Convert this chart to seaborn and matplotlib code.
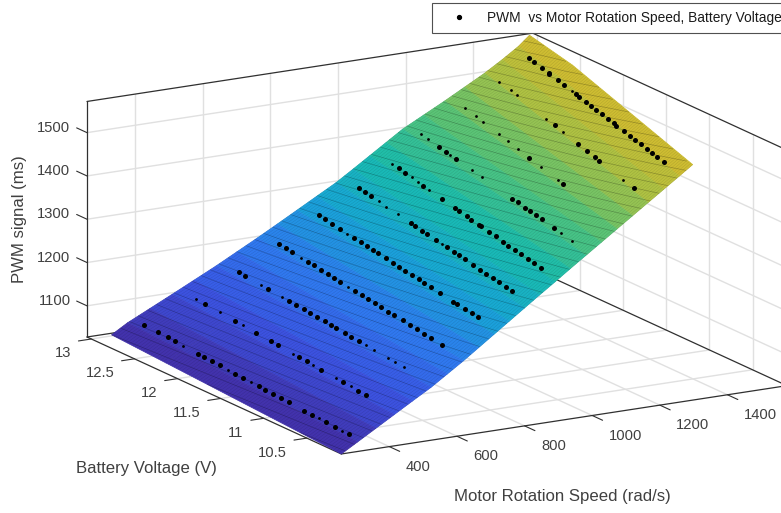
import numpy as np
import matplotlib
matplotlib.use('Agg')
import matplotlib.pyplot as plt
from matplotlib.lines import Line2D
from mpl_toolkits.mplot3d import proj3d
import seaborn as sns

# PWM levels commanded during the test
pwm_levels = [1050, 1100, 1150, 1200, 1250, 1300, 1350, 1400, 1450, 1500, 1550]

# dots that sit on top of the surface, one list per PWM level
volt_rows = [
    [12.93, 12.75, 12.63, 12.53, 12.23, 12.15, 12.05, 11.95, 11.75, 11.64, 11.44, 11.36, 11.26, 11.15, 11.05, 10.85, 10.75, 10.56, 10.45, 10.27],
    [12.75, 12.34, 12.05, 11.85, 11.75, 11.46, 11.36, 11.16, 10.86, 10.66, 10.56],
    [12.84, 12.75, 12.44, 12.15, 12.05, 11.95, 11.86, 11.76, 11.66, 11.57, 11.50, 11.38, 11.29, 11.18],
    [12.85, 12.75, 12.66, 12.42, 12.34, 12.23, 12.13, 12.04, 11.95, 11.74, 11.63, 11.54, 11.44, 11.36, 11.25, 11.16, 11.04, 10.94, 10.83, 10.73, 10.63, 10.47],
    [12.86, 12.77, 12.66, 12.54, 12.33, 12.23, 12.14, 12.05, 11.97, 11.85, 11.75, 11.66, 11.56, 11.46, 11.36, 11.28, 11.18, 11.04, 10.84, 10.79, 10.67, 10.57, 10.47],
    [12.85, 12.76, 12.66, 12.04, 11.97, 11.86, 11.78, 11.65, 11.48, 11.37, 11.29, 11.20, 11.07, 10.95, 10.86, 10.76, 10.66, 10.56, 10.46],
    [12.70, 12.59, 12.30, 12.00, 11.79, 11.72, 11.60, 11.52, 11.39, 11.36, 11.23, 11.13, 11.00, 10.92, 10.81, 10.72, 10.61, 10.51, 10.40],
    [12.58, 12.47, 12.30, 11.39, 11.30, 11.18, 11.10, 11.00, 10.91, 10.71],
    [11.70, 11.11],
    [11.83, 11.41, 11.25, 11.11, 11.03, 10.41],
    [12.78, 12.68, 12.55, 12.43, 12.42, 12.27, 12.16, 11.95, 11.89, 11.78, 11.69, 11.60, 11.49, 11.39, 11.29, 11.24, 11.11, 11.01, 10.92, 10.81, 10.71, 10.62, 10.53, 10.41],
]
speed_rows = [
    [397, 392, 389, 386, 377, 375, 372, 370, 364, 361, 356, 353, 351, 347, 345, 339, 336, 331, 328, 323],
    [529, 514, 503, 495, 491, 481, 477, 469, 458, 451, 447],
    [654, 650, 638, 626, 622, 618, 614, 610, 606, 603, 600, 595, 591, 587],
    [774, 769, 764, 751, 747, 741, 736, 731, 727, 716, 710, 705, 700, 696, 690, 685, 679, 674, 668, 663, 657, 649],
    [895, 890, 883, 876, 864, 859, 853, 848, 844, 837, 831, 826, 820, 814, 808, 804, 798, 790, 778, 775, 769, 763, 757],
    [1011, 1005, 998, 958, 953, 946, 941, 932, 921, 914, 909, 903, 894, 886, 880, 874, 867, 861, 854],
    [1090, 1082, 1061, 1040, 1024, 1019, 1011, 1005, 995, 993, 984, 977, 967, 961, 954, 947, 939, 932, 924],
    [1180, 1172, 1159, 1092, 1085, 1077, 1071, 1064, 1057, 1042],
    [1222, 1170],
    [1330, 1292, 1278, 1265, 1258, 1202],
    [1495, 1486, 1475, 1465, 1463, 1451, 1442, 1424, 1418, 1409, 1401, 1393, 1384, 1375, 1367, 1362, 1351, 1343, 1335, 1325, 1317, 1309, 1301, 1291],
]

# dots that are mostly under the surface, only a sliver shows
partial_volt_rows = [
    [12.43, 11.84, 11.54, 10.66, 10.36],
    [12.86, 12.54, 12.23, 11.55, 11.27, 10.96, 10.76],
    [12.53, 12.25, 11.09, 10.98, 10.79, 10.68, 10.56],
    [12.52, 11.83],
    [12.43],
    [12.54, 12.42, 12.24, 11.55],
    [12.81, 12.49, 12.39, 12.20],
    [12.87, 12.77, 12.40, 12.04, 11.88, 10.60, 10.42],
    [12.83, 12.65, 12.52, 12.23, 12.08, 11.90, 11.49, 11.19],
    [12.82, 12.62, 12.51, 11.98, 11.68, 10.60],
    [12.03],
]
partial_speed_rows = [
    [383, 367, 358, 334, 326],
    [533, 521, 510, 484, 474, 462, 454],
    [641, 630, 583, 579, 571, 566, 561],
    [757, 720],
    [870],
    [991, 983, 971, 926],
    [1098, 1075, 1068, 1054],
    [1201, 1194, 1166, 1140, 1128, 1034, 1021],
    [1321, 1305, 1294, 1268, 1255, 1239, 1203, 1177],
    [1419, 1401, 1391, 1343, 1316, 1219],
    [1431],
]

# fitted surface: speed at each PWM level for three voltages
surf_volt = [10.1, 12.33, 13.02]
surf_pwm = [1028, 1050, 1075, 1100, 1125, 1150, 1175, 1200, 1225, 1250, 1275, 1300,
            1325, 1350, 1375, 1400, 1425, 1450, 1475, 1500, 1525, 1550, 1572]
surf_speed_low = [258, 306, 360, 414, 468, 523, 571, 619, 664, 709, 754, 799,
                  844, 890, 935, 981, 1027, 1073, 1119, 1165, 1211, 1257, 1297]
surf_speed_mid = [308, 355, 418, 481, 544, 606, 664, 722, 778, 833, 888, 943,
                  991, 1040, 1088, 1136, 1194, 1252, 1308, 1364, 1415, 1470, 1510]
surf_speed_high = [323, 370, 436, 502, 567, 632, 693, 754, 813, 871, 929, 987,
                   1037, 1086, 1135, 1184, 1246, 1308, 1367, 1426, 1478, 1526, 1559]

x_ticks = [400, 600, 800, 1000, 1200, 1400]
y_ticks = [10.5, 11, 11.5, 12, 12.5, 13]
y_tick_labels = ['10.5', '11', '11.5', '12', '12.5', '13']
z_ticks = [1100, 1200, 1300, 1400, 1500]

x_lim = (258, 1576)
y_lim = (10.1, 13.05)
z_lim = (1028, 1572)

sns.set_theme(style='white', font='Liberation Sans')
plt.rcParams['font.family'] = ['Liberation Sans', 'DejaVu Sans']

parula = sns.blend_palette(['#4232ac', '#3b55e4', '#2f7cf0', '#18a6d8', '#19bdb0',
                            '#52c47c', '#aac346', '#dcbb2a'], as_cmap=True)
grid_color = '#e0e0e0'
axis_color = '#303030'
text_color = '#404040'

fig = plt.figure(figsize=(7.81, 5.13), dpi=100)
ax = fig.add_subplot(projection='3d', proj_type='ortho', computed_zorder=False)
ax.set_box_aspect((514, 508, 244))
ax.view_init(elev=15.4, azim=-120)
ax.set_axis_off()

# grid on the three back walls
for x in x_ticks:
    ax.plot([x, x], [y_lim[0], y_lim[1]], [z_lim[0], z_lim[0]], color=grid_color, lw=1, zorder=1)
    ax.plot([x, x], [y_lim[1], y_lim[1]], z_lim, color=grid_color, lw=1, zorder=1)
for y in y_ticks:
    ax.plot(x_lim, [y, y], [z_lim[0], z_lim[0]], color=grid_color, lw=1, zorder=1)
    ax.plot([x_lim[1], x_lim[1]], [y, y], z_lim, color=grid_color, lw=1, zorder=1)
for z in z_ticks:
    ax.plot(x_lim, [y_lim[1], y_lim[1]], [z, z], color=grid_color, lw=1, zorder=1)
    ax.plot([x_lim[1], x_lim[1]], y_lim, [z, z], color=grid_color, lw=1, zorder=1)

# box edges
xa, xb = x_lim
ya, yb = y_lim
za, zb = z_lim
edges = [([xa, xb], [ya, ya], [za, za]), ([xa, xa], [ya, yb], [za, za]),
         ([xa, xa], [yb, yb], [za, zb]), ([xa, xb], [yb, yb], [zb, zb]),
         ([xb, xb], [ya, yb], [zb, zb]), ([xa, xb], [yb, yb], [za, za]),
         ([xb, xb], [ya, yb], [za, za])]
for ex, ey, ez in edges:
    ax.plot(ex, ey, ez, color=axis_color, lw=0.9, zorder=1.5)

# surface
speed_table = np.array([surf_speed_low, surf_speed_mid, surf_speed_high]).T
volt_grid, pwm_grid = np.meshgrid(surf_volt, surf_pwm)
colors = parula((pwm_grid - za) / (zb - za))
ax.plot_surface(speed_table, volt_grid, pwm_grid, facecolors=colors, rstride=1, cstride=1,
                shade=False, linewidth=0.5, antialiased=True, zorder=2)

# mesh lines of the fit
mesh_volt = np.linspace(surf_volt[0], surf_volt[-1], 90)
mesh_speed = np.arange(270, 1570, 26.5)
speed_by_volt = np.array([[np.interp(v, surf_volt, row) for v in mesh_volt] for row in speed_table])
for j, v in enumerate(mesh_volt):
    ax.plot(speed_by_volt[:, j], np.full(len(surf_pwm), v), surf_pwm, color='black', lw=0.3, alpha=0.15, zorder=3)
for s in mesh_speed:
    z_line = [np.interp(s, speed_by_volt[:, j], surf_pwm, left=np.nan, right=np.nan) for j in range(len(mesh_volt))]
    ax.plot(np.full(len(mesh_volt), s), mesh_volt, z_line, color='black', lw=0.5, alpha=0.25, zorder=3)

# measured points
for level, volts, speeds in zip(pwm_levels, volt_rows, speed_rows):
    ax.scatter(speeds, volts, [level] * len(volts), color='black', s=13, linewidths=0, depthshade=False, zorder=4)
for level, volts, speeds in zip(pwm_levels, partial_volt_rows, partial_speed_rows):
    ax.scatter(speeds, volts, [level] * len(volts), color='black', s=4, linewidths=0, depthshade=False, zorder=4)

# tick marks
for x in x_ticks:
    ax.plot([x, x], [ya, ya - 0.12], [za, za], color=axis_color, lw=0.8, zorder=1.5)
for y in y_ticks:
    ax.plot([xa, xa - 38], [y, y], [za, za], color=axis_color, lw=0.8, zorder=1.5)
for z in z_ticks:
    ax.plot([xa, xa], [yb, yb + 0.12], [z, z], color=axis_color, lw=0.8, zorder=1.5)

ax.set_xlim(x_lim, view_margin=0)
ax.set_ylim(y_lim, view_margin=0)
ax.set_zlim(z_lim, view_margin=0)

# put the box where it belongs in the 781x513 frame
M = ax.get_proj()
left_x, left_y, _ = proj3d.proj_transform(xa, yb, za, M)
right_x, right_y, _ = proj3d.proj_transform(xb, ya, za, M)
scale = (787 - 87) / (right_x - left_x)
(x0, y0), (x1, y1) = ax.transLimits.inverted().transform([(0, 0), (1, 1)])
left_px = 87 - (left_x - x0) * scale
bottom_px = (513 - 337) - (left_y - y0) * scale
ax.set_position([left_px / 781, bottom_px / 513, scale * (x1 - x0) / 781, scale * (y1 - y0) / 513])


def tick_label(x, y, z, text, dx, dy, ha):
    # plain figure text next to the projected tick, dx/dy in pixels
    xp, yp, _ = proj3d.proj_transform(x, y, z, M)
    px = left_px + (xp - x0) * scale + dx
    py = bottom_px + (yp - y0) * scale - dy
    fig.text(px / 781, py / 513, text, color=text_color, fontsize=10.6, ha=ha, va='center')


for x in x_ticks:
    tick_label(x, ya, za, str(x), 16.5, 20, 'left')
for y, lab in zip(y_ticks, y_tick_labels):
    tick_label(xa, y, za, lab, -20, 14.5, 'right')
for z in z_ticks:
    tick_label(xa, yb, z, str(z), -16.5, -5, 'right')

fig.text(146 / 781, 1 - 468 / 513, 'Battery Voltage (V)', color=text_color, fontsize=12.1, ha='center', va='center')
fig.text(562 / 781, 1 - 496 / 513, 'Motor Rotation Speed (rad/s)', color=text_color, fontsize=12.1, ha='center', va='center')
fig.text(20 / 781, 1 - 219 / 513, 'PWM signal (ms)', color=text_color, fontsize=12.1, rotation=90, ha='center', va='center')

handle = Line2D([], [], linestyle='none', marker='o', color='black', markersize=2.8)
leg = fig.legend(handles=[handle], labels=['PWM  vs Motor Rotation Speed, Battery Voltage'],
                 loc='upper left', bbox_to_anchor=(432 / 781, 1 - 3 / 513), bbox_transform=fig.transFigure,
                 fancybox=False, framealpha=1, edgecolor='#505050', fontsize=9.9, handlelength=2.7,
                 borderaxespad=0, handletextpad=0.7, borderpad=0.6, labelcolor='#1a1a1a')
leg.get_frame().set_linewidth(0.8)

fig.savefig('out.png', dpi=100)
